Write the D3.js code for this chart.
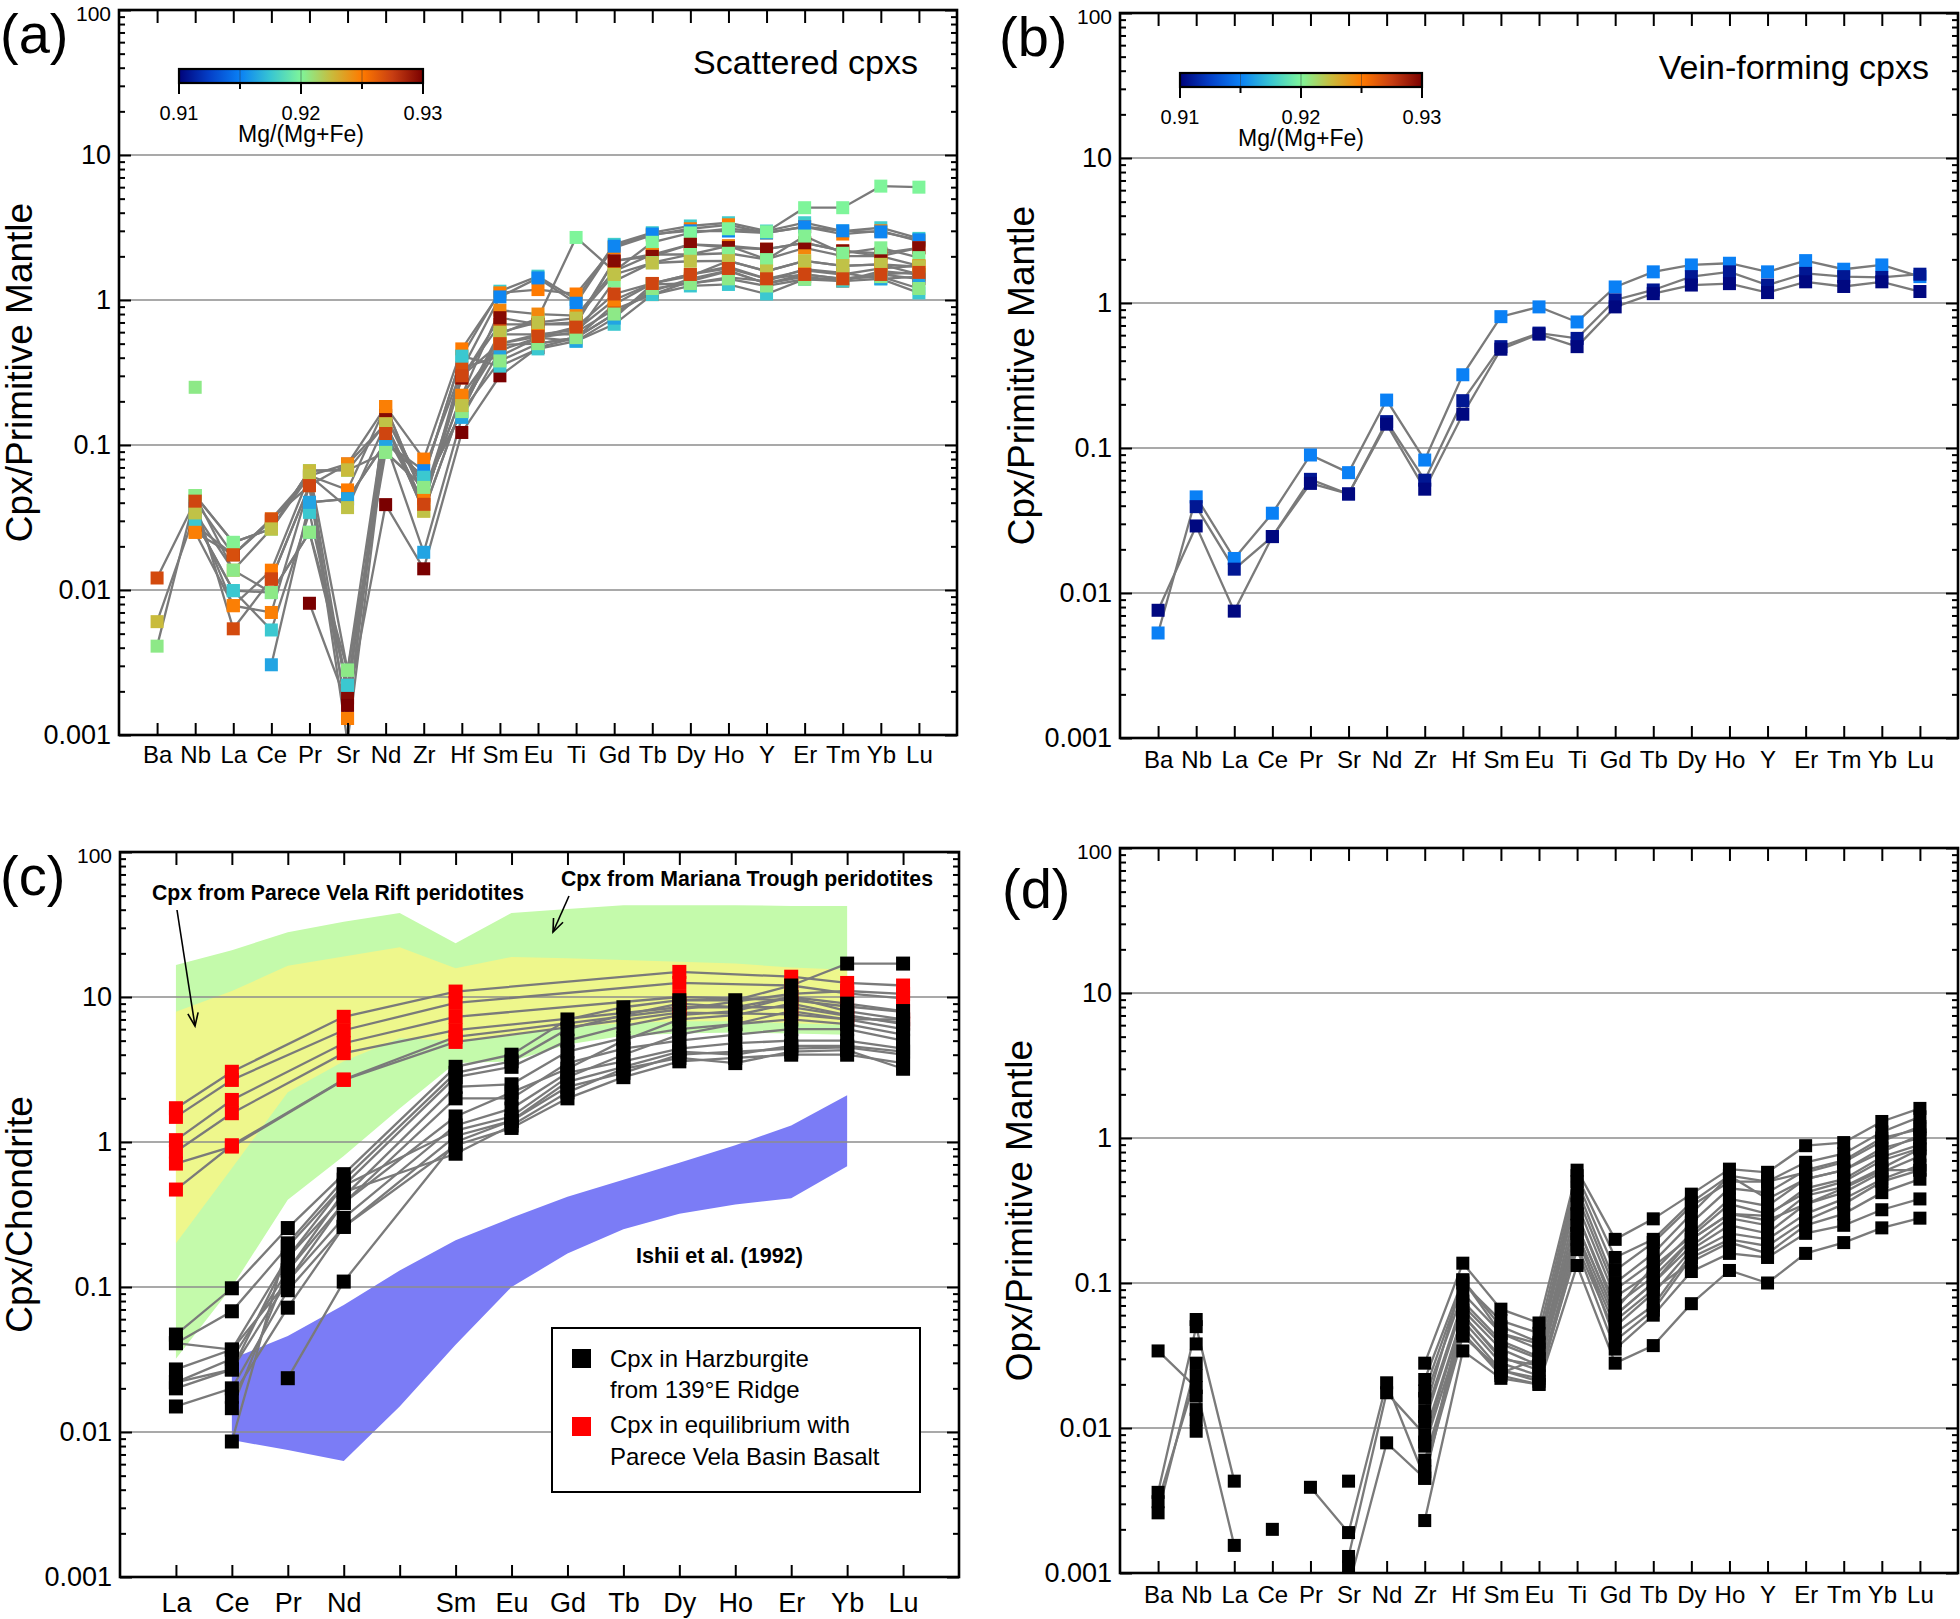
<!DOCTYPE html>
<html><head><meta charset="utf-8">
<script src="https://cdn.jsdelivr.net/npm/d3@7"></script>
<style>
body{margin:0;background:#fff;}
text{font-family:"Liberation Sans",Arial,Helvetica,sans-serif;}
</style></head><body>
<svg id="chart" width="1960" height="1619"></svg>
<script>
// ---------------- DATA ----------------
const elementsPM = ["Ba","Nb","La","Ce","Pr","Sr","Nd","Zr","Hf","Sm","Eu","Ti","Gd","Tb","Dy","Ho","Y","Er","Tm","Yb","Lu"];
const elementsREE = ["La","Ce","Pr","Nd","Pm","Sm","Eu","Gd","Tb","Dy","Ho","Er","Yb","Lu"];
const reeTickLabels = ["La","Ce","Pr","Nd","","Sm","Eu","Gd","Tb","Dy","Ho","Er","Yb","Lu"];
const yTickValues = [100,10,1,0.1,0.01,0.001];
const yTickLabels = ["100","10","1","0.1","0.01","0.001"];
const gridValues = [10,1,0.1,0.01];
const mgTickValues = [0.91,0.915,0.92,0.925,0.93];
const mgTickLabels = ["0.91","","0.92","","0.93"];
const mgStops = [0.91,0.9125,0.915,0.9175,0.92,0.9225,0.925,0.9275,0.93];
const mgStopColors = ["#00037a","#0440c8","#0a80f5","#38c6d2","#7ef59a","#c9bb3c","#ff7a00","#c83e12","#7a0000"];

// (a) Scattered cpxs : Mg# and PM-normalised values
const scatteredMg = [0.9178,0.9250,0.9152,0.9200,0.9270,0.9245,0.9296,0.9300,0.9202,0.9225,0.9268,0.9176,0.9163,0.9248,0.9205,0.9222,0.9272,0.9205];
const scatteredValues = [
 [null,0.030,0.0099,0.0096,0.025,0.0022,0.104,0.060,0.41,1.15,1.46,1.01,2.42,2.91,3.24,3.41,2.99,3.41,2.99,3.15,2.66],
 [null,0.034,0.0078,0.0137,0.0614,0.049,0.184,0.080,0.46,1.12,1.18,1.10,2.30,2.80,3.10,3.30,2.90,3.20,2.85,3.00,2.55],
 [null,0.038,null,null,0.0402,0.0425,0.104,0.0665,0.33,1.05,1.42,0.95,2.35,2.85,3.00,2.99,2.90,3.20,3.00,2.95,2.60],
 [null,0.0448,0.0213,0.0264,0.0665,0.0028,0.155,0.051,0.17,0.58,0.75,2.70,1.58,2.50,2.90,3.10,2.95,4.33,4.33,6.10,6.00],
 [0.0121,0.041,0.0054,0.0119,0.0525,0.074,0.14,0.039,0.29,0.68,0.68,0.68,1.86,2.06,2.42,2.36,2.24,2.48,2.18,2.01,2.29],
 [null,0.025,0.0175,0.0309,0.0614,0.074,0.184,0.0436,0.22,0.85,0.80,0.78,1.58,2.06,2.06,2.36,1.91,2.29,2.01,2.01,1.72],
 [null,0.028,0.0175,0.030,0.060,0.0018,0.16,0.045,0.29,0.755,0.68,0.70,1.86,2.00,2.42,2.30,2.24,2.48,2.18,2.10,2.29],
 [null,null,null,null,0.0081,0.0016,0.0388,0.014,0.122,0.30,0.47,0.55,0.80,1.15,1.40,1.60,1.30,1.50,1.40,1.50,1.40],
 [null,0.0448,0.0213,0.0264,0.0665,0.067,0.089,0.051,0.17,0.58,0.58,0.58,1.35,1.81,2.06,2.10,1.90,2.76,2.10,2.29,1.96],
 [0.00605,0.034,0.0137,0.0264,0.0665,0.067,0.14,0.035,0.187,0.49,0.50,0.55,0.93,1.30,1.46,1.86,1.58,1.86,1.72,1.76,1.50],
 [null,0.041,0.0175,0.0309,0.0525,0.0013,0.14,0.039,0.34,0.41,0.55,0.60,0.86,1.09,1.35,1.58,1.30,1.45,1.35,1.58,1.50],
 [null,0.030,0.0099,0.0053,0.0343,0.0022,0.104,0.060,0.41,0.35,0.46,0.52,0.68,1.09,1.25,1.28,1.10,1.39,1.35,1.40,1.12],
 [null,0.038,null,0.00305,0.0402,0.0425,0.104,0.0182,0.155,0.45,0.55,0.52,0.75,1.28,1.30,1.43,1.35,1.63,1.54,1.40,1.45],
 [null,0.025,0.0078,0.0070,0.0525,0.0013,0.184,0.0436,0.22,0.50,0.58,0.62,1.00,1.30,1.50,1.70,1.40,1.60,1.50,1.65,1.72],
 [0.0041,0.0448,0.0137,0.0096,0.025,0.0028,0.089,0.051,0.17,0.38,0.50,0.55,0.80,1.20,1.30,1.40,1.25,1.39,1.40,1.45,1.20],
 [null,0.034,null,0.0264,0.0614,0.037,0.14,0.035,0.187,0.60,0.70,0.75,1.50,1.80,1.85,1.86,1.58,1.86,1.72,1.76,1.70],
 [null,0.041,null,0.0119,0.0525,0.0009,0.12,0.039,0.30,0.50,0.56,0.65,1.10,1.30,1.50,1.65,1.40,1.50,1.40,1.50,1.55],
 [null,0.25,null,null,null,null,null,null,null,null,null,null,null,null,null,null,null,null,null,null,null]
];

// (b) Vein-forming cpxs
const veinMg = [0.9150,0.9108,0.9102];
const veinValues = [
 [0.0053,0.046,0.0173,0.0355,0.0895,0.0676,0.214,0.0826,0.32,0.805,0.94,0.74,1.29,1.64,1.83,1.88,1.64,1.96,1.71,1.83,1.52],
 [null,0.0394,0.0146,0.0245,0.0608,0.0482,0.152,0.060,0.212,0.50,0.62,0.57,1.05,1.23,1.52,1.64,1.33,1.60,1.52,1.50,1.58],
 [0.0076,0.029,0.0075,0.0245,0.057,0.0482,0.146,0.052,0.171,0.48,0.61,0.50,0.94,1.16,1.33,1.36,1.18,1.40,1.30,1.40,1.20]
];

// (c) Chondrite-normalised REE
const harzburgiteValues = [
 [0.047,0.098,0.255,0.60,null,3.3,4.0,7.0,8.5,9.5,9.5,12,17,17],
 [0.041,0.068,0.19,0.50,null,2.8,3.3,5.0,6.3,7.5,8.0,10,9.0,8.0],
 [0.027,0.037,0.16,0.42,null,2.4,2.5,4.2,5.2,6.0,6.5,8.0,7.0,6.0],
 [0.022,0.032,0.13,0.38,null,2.0,2.0,3.5,4.4,5.0,5.5,6.0,6.0,5.0],
 [0.020,0.027,0.11,0.30,null,1.3,1.7,3.0,3.6,4.4,4.8,5.0,5.0,4.4],
 [0.015,0.020,0.095,0.26,null,1.1,1.4,2.4,3.0,4.0,4.2,4.4,4.5,4.0],
 [null,0.0175,0.072,0.26,null,0.95,1.25,2.0,2.8,3.6,3.8,4.0,4.0,3.5],
 [null,0.0146,0.13,0.45,null,0.83,1.3,2.2,3.2,3.8,3.5,4.2,4.3,3.2],
 [null,0.0086,0.20,0.55,null,3.0,3.6,6.0,7.5,9.0,8.5,10,8.0,7.0],
 [null,null,0.0235,0.109,null,1.0,1.4,2.6,3.3,4.2,4.0,4.6,4.6,4.2],
 [0.022,0.027,0.16,0.50,null,1.2,1.5,2.8,4.0,5.5,6.5,7.0,6.5,5.5],
 [0.041,0.037,0.11,0.38,null,1.5,2.2,3.2,5.0,7.0,7.5,9.0,7.5,6.5]
];
const equilibriumValues = [
 [1.71,3.05,null,7.3,null,10.9,null,null,null,14.9,null,13.8,12.5,12.0],
 [1.49,2.68,null,5.9,null,9.1,null,null,null,12.5,null,12.0,10.6,9.8],
 [1.03,1.95,null,4.8,null,7.3,null,null,null,10.0,null,9.5,8.6,7.9],
 [0.86,1.58,null,4.1,null,5.9,null,null,null,8.5,null,8.5,7.4,6.6],
 [0.71,0.93,null,2.68,null,4.9,null,null,null,7.8,null,7.6,7.0,7.0],
 [0.47,0.95,null,2.7,null,5.3,null,null,null,8.2,null,10.5,11.0,10.5]
];
// field outlines: [element, value]
const marianaUpper = [["La",16.6],["Ce",21],["Pr",28],["Nd",33],["Pm",38],["Sm",23.5],["Eu",38],["Gd",40.5],["Tb",43],["Dy",43],["Ho",43],["Er",42.5],["Yb",42.5]];
const marianaLower = [["La",0.032],["Ce",0.10],["Pr",0.40],["Nd",0.80],["Pm",1.7],["Sm",3.5],["Eu",3.6],["Gd",4.7],["Tb",5.4],["Dy",5.6],["Ho",5.7],["Er",5.6],["Yb",5.5]];
const pvRiftUpper = [["La",7.9],["Ce",11],["Pr",16.4],["Nd",19],["Pm",22],["Sm",15.8],["Eu",18.9],["Gd",18.5],["Tb",18],["Dy",17.5],["Ho",17],["Er",16],["Yb",15.4]];
const pvRiftLower = [["La",0.2],["Ce",0.66],["Pr",2.2],["Nd",3.6],["Pm",5.2],["Sm",5.0],["Eu",5.4],["Gd",6.2],["Tb",6.6],["Dy",6.8],["Ho",6.8],["Er",6.6],["Yb",6.4]];
const ishiiUpper = [["Ce",0.032],["Pr",0.046],["Nd",0.075],["Pm",0.13],["Sm",0.21],["Eu",0.3],["Gd",0.42],["Tb",0.55],["Dy",0.72],["Ho",0.95],["Er",1.3],["Yb",2.1]];
const ishiiLower = [["Ce",0.0088],["Pr",0.0075],["Nd",0.0063],["Pm",0.015],["Sm",0.04],["Eu",0.1],["Gd",0.17],["Tb",0.25],["Dy",0.32],["Ho",0.37],["Er",0.41],["Yb",0.68]];

// (d) Opx / Primitive Mantle
const opxValues = [
 [0.034,0.019,0.00155,null,null,null,null,0.028,0.137,0.066,0.053,0.60,0.20,0.277,0.41,0.61,0.58,0.885,0.93,1.30,1.60],
 [0.0036,0.050,0.0043,null,null,null,null,0.0216,0.105,0.050,0.039,0.50,0.122,0.19,0.34,0.50,0.50,0.68,0.78,1.10,1.40],
 [0.0031,0.023,null,null,null,null,null,0.016,0.085,0.045,0.035,0.40,0.090,0.14,0.26,0.45,0.42,0.60,0.70,1.00,1.15],
 [0.0026,0.028,null,null,null,null,null,0.012,0.075,0.040,0.031,0.35,0.080,0.12,0.22,0.38,0.34,0.52,0.60,0.85,1.00],
 [null,0.056,null,null,0.0039,0.0019,0.0205,0.0045,0.065,0.035,0.027,0.30,0.070,0.11,0.20,0.30,0.29,0.45,0.52,0.74,0.90],
 [null,0.038,null,null,null,0.0013,0.0175,0.009,0.060,0.031,0.025,0.25,0.060,0.10,0.18,0.28,0.25,0.40,0.46,0.62,0.84],
 [null,0.0166,null,null,null,0.0008,0.0079,0.0045,0.055,0.028,0.023,0.20,0.050,0.085,0.17,0.25,0.22,0.35,0.42,0.58,0.75],
 [null,0.0134,null,null,null,0.0011,null,0.0075,0.050,0.025,0.021,0.18,0.045,0.07,0.16,0.22,0.20,0.30,0.38,0.52,0.65],
 [null,0.0115,null,null,null,null,null,0.006,0.045,0.023,0.020,0.22,0.040,0.065,0.15,0.20,0.18,0.27,0.35,0.50,0.60],
 [null,0.0095,null,null,null,null,null,0.0023,0.034,0.022,0.020,0.132,0.028,0.037,0.072,0.122,0.10,0.16,0.19,0.24,0.28],
 [null,null,null,null,null,null,null,0.013,0.105,0.045,0.038,0.45,0.10,0.16,0.30,0.55,0.50,0.58,0.68,0.95,1.20],
 [null,null,null,null,null,null,null,0.011,0.070,0.038,0.030,0.30,0.065,0.13,0.21,0.35,0.30,0.42,0.50,0.70,0.85],
 [null,null,null,null,null,null,null,0.008,0.060,0.030,0.027,0.22,0.055,0.09,0.14,0.19,0.16,0.25,0.30,0.42,0.52],
 [null,null,null,null,null,null,null,0.005,0.043,0.025,0.022,0.17,0.035,0.06,0.12,0.16,0.15,0.22,0.25,0.32,0.38],
 [null,null,null,null,null,null,null,0.0055,0.045,0.024,0.030,0.25,0.060,0.10,0.20,0.30,0.27,0.35,0.45,0.60,0.60],
 [null,null,null,null,null,null,null,0.018,0.100,0.055,0.045,0.55,0.150,0.20,0.36,0.55,0.38,0.52,0.60,0.80,1.05],
 [null,null,null,0.002,null,null,null,null,null,null,null,null,null,null,null,null,null,null,null,null,null],
 [null,null,null,null,null,0.0043,null,null,null,null,null,null,null,null,null,null,null,null,null,null,null]
];

// ---------------- DRAW ----------------
const svg = d3.select("#chart");
const defs = svg.append("defs");
const mgColor = d3.scaleLinear().domain(mgStops).range(mgStopColors).clamp(true);
const minorValues = [];
[-3,-2,-1,0,1].forEach(e => { for (let k=2;k<=9;k++) minorValues.push(k*Math.pow(10,e)); });

function makePanel(cfg){
  const x = d3.scalePoint().domain(cfg.cats).range([cfg.x0,cfg.x1]).padding(1);
  const y = d3.scaleLog().domain([0.001,100]).range([cfg.y1,cfg.y0]);
  const g = svg.append("g");
  defs.append("clipPath").attr("id","clip-"+cfg.id).append("rect")
    .attr("x",cfg.x0).attr("y",cfg.y0).attr("width",cfg.x1-cfg.x0).attr("height",cfg.y1-cfg.y0);
  const under = g.append("g").attr("clip-path","url(#clip-"+cfg.id+")");
  const grid = g.append("g");
  grid.selectAll("line").data(gridValues).join("line")
    .attr("x1",cfg.x0).attr("x2",cfg.x1).attr("y1",d=>y(d)).attr("y2",d=>y(d))
    .attr("stroke","#8c8c8c").attr("stroke-width",1.6);
  const plot = g.append("g").attr("clip-path","url(#clip-"+cfg.id+")");
  const axes = g.append("g");
  const bottom = axes.append("g").attr("transform",`translate(0,${cfg.y1})`)
    .call(d3.axisBottom(x).tickSize(-12).tickPadding(cfg.xPad).tickFormat((d,i)=>cfg.tickLabels[i]));
  bottom.selectAll("text").attr("font-size",cfg.xFont).attr("fill","#000")
    .attr("font-family",'"Liberation Sans",Arial,Helvetica,sans-serif');
  axes.append("g").attr("transform",`translate(0,${cfg.y0})`)
    .call(d3.axisTop(x).tickSize(-13).tickFormat(""));
  const left = axes.append("g").attr("transform",`translate(${cfg.x0},0)`)
    .call(d3.axisLeft(y).tickValues(yTickValues).tickSize(-12).tickPadding(8).tickFormat((d,i)=>yTickLabels[i]));
  left.selectAll("text").attr("font-size",d=>d===100?21:27).attr("fill","#000")
    .attr("font-family",'"Liberation Sans",Arial,Helvetica,sans-serif')
    .attr("dy",d=>d===100 ? "0.5em" : "0.32em");
  axes.append("g").attr("transform",`translate(${cfg.x0},0)`)
    .call(d3.axisLeft(y).tickValues(minorValues).tickSize(-6).tickFormat(""));
  axes.append("g").attr("transform",`translate(${cfg.x1},0)`)
    .call(d3.axisRight(y).tickValues(yTickValues).tickSize(-12).tickFormat(""));
  axes.append("g").attr("transform",`translate(${cfg.x1},0)`)
    .call(d3.axisRight(y).tickValues(minorValues).tickSize(-6).tickFormat(""));
  axes.selectAll(".domain").remove();
  axes.selectAll(".tick line").attr("stroke","#000").attr("stroke-width",2);
  axes.append("rect").attr("x",cfg.x0).attr("y",cfg.y0).attr("width",cfg.x1-cfg.x0).attr("height",cfg.y1-cfg.y0)
    .attr("fill","none").attr("stroke","#000").attr("stroke-width",2.6);
  svg.append("text").attr("transform",`translate(${cfg.titleX},${(cfg.y0+cfg.y1)/2}) rotate(-90)`)
    .attr("text-anchor","middle").attr("font-size",37).text(cfg.title);
  svg.append("text").attr("x",cfg.letterX).attr("y",cfg.letterY).attr("font-size",56).text(cfg.letter);
  return {x,y,under,plot,g};
}

function drawSeries(P, cats, rows, skipNulls){
  const line = d3.line().defined(d=>d.v!=null).x(d=>P.x(d.c)).y(d=>P.y(d.v));
  const series = rows.map((r,i)=>{
    let pts = r.map((v,j)=>({c:cats[j],v:v}));
    if (skipNulls) pts = pts.filter(d=>d.v!=null);
    return {i, pts};
  });
  P.plot.append("g").selectAll("path").data(series).join("path")
    .attr("d",d=>line(d.pts)).attr("fill","none").attr("stroke","#7a7a7a").attr("stroke-width",2.3);
  return series;
}
function drawMarkers(P, series, colorFn, size){
  const mg = P.plot.append("g");
  series.forEach(s=>{
    mg.selectAll(null).data(s.pts.filter(d=>d.v!=null)).join("rect")
      .attr("x",d=>P.x(d.c)-size/2).attr("y",d=>P.y(d.v)-size/2)
      .attr("width",size).attr("height",size).attr("fill",colorFn(s.i));
  });
}

function colorBar(x0, x1, y0, label){
  const id = "grad"+Math.round(x0);
  const grad = defs.append("linearGradient").attr("id",id).attr("x1","0%").attr("x2","100%");
  mgStops.forEach((s,i)=>grad.append("stop").attr("offset",((s-0.91)/0.02*100)+"%").attr("stop-color",mgStopColors[i]));
  const cx = d3.scaleLinear().domain([0.91,0.93]).range([x0,x1]);
  const g = svg.append("g");
  g.append("rect").attr("x",x0).attr("y",y0).attr("width",x1-x0).attr("height",14).attr("fill",`url(#${id})`);
  g.selectAll("line.in").data([0.915,0.92,0.925]).join("line")
    .attr("x1",d=>cx(d)).attr("x2",d=>cx(d)).attr("y1",y0).attr("y2",y0+14).attr("stroke","#333").attr("stroke-width",0.8).attr("opacity",0.6);
  g.append("rect").attr("x",x0).attr("y",y0).attr("width",x1-x0).attr("height",14).attr("fill","none").attr("stroke","#000").attr("stroke-width",2.2);
  g.selectAll("line.tk").data(mgTickValues).join("line")
    .attr("x1",d=>cx(d)).attr("x2",d=>cx(d)).attr("y1",y0+14).attr("y2",(d,i)=>i%2?y0+20:y0+25)
    .attr("stroke","#000").attr("stroke-width",2);
  g.selectAll("text.tl").data(mgTickValues).join("text")
    .attr("x",d=>cx(d)).attr("y",y0+51).attr("text-anchor","middle").attr("font-size",20).text((d,i)=>mgTickLabels[i]);
  g.append("text").attr("x",cx(0.92)).attr("y",y0+73).attr("text-anchor","middle").attr("font-size",23).text(label);
}

// ---- panel (a)
const PA = makePanel({id:"a",x0:119,x1:957,y0:10,y1:735,cats:elementsPM,tickLabels:elementsPM,xFont:24,xPad:11,
  title:"Cpx/Primitive Mantle",titleX:32,letter:"(a)",letterX:0,letterY:53});
const sA = drawSeries(PA, elementsPM, scatteredValues);
drawMarkers(PA, sA, i=>mgColor(scatteredMg[i]), 13);
colorBar(179,423,69,"Mg/(Mg+Fe)");
svg.append("text").attr("x",918).attr("y",74).attr("text-anchor","end").attr("font-size",34).text("Scattered cpxs");

// ---- panel (b)
const PB = makePanel({id:"b",x0:1120,x1:1958,y0:13,y1:738,cats:elementsPM,tickLabels:elementsPM,xFont:24,xPad:13,
  title:"Cpx/Primitive Mantle",titleX:1034,letter:"(b)",letterX:999,letterY:56});
const sB = drawSeries(PB, elementsPM, veinValues);
drawMarkers(PB, sB, i=>mgColor(veinMg[i]), 13);
colorBar(1180,1422,73,"Mg/(Mg+Fe)");
svg.append("text").attr("x",1929).attr("y",79).attr("text-anchor","end").attr("font-size",34).text("Vein-forming cpxs");

// ---- panel (c)
const PC = makePanel({id:"c",x0:120,x1:959,y0:852,y1:1577,cats:elementsREE,tickLabels:reeTickLabels,xFont:27,xPad:16,
  title:"Cpx/Chondrite",titleX:32,letter:"(c)",letterX:0,letterY:895});
function field(upper, lower, color){
  const pts = upper.concat(lower.slice().reverse());
  PC.under.append("path").attr("d", d3.line().x(d=>PC.x(d[0])).y(d=>PC.y(d[1]))(pts)+"Z").attr("fill",color);
}
field(marianaUpper, marianaLower, "#c4faab");
field(pvRiftUpper, pvRiftLower, "#eef78c");
field(ishiiUpper, ishiiLower, "#7b7cf6");
const sK = drawSeries(PC, elementsREE, harzburgiteValues, true);
const sR = drawSeries(PC, elementsREE, equilibriumValues, true);
drawMarkers(PC, sR, ()=>"#ff0000", 14);
drawMarkers(PC, sK, ()=>"#000000", 14);
function condText(x,y,len,txt){
  svg.append("text").attr("x",x).attr("y",y).attr("font-size",22).attr("font-weight","bold")
    .attr("textLength",len).attr("lengthAdjust","spacingAndGlyphs").text(txt);
}
condText(152,900,372,"Cpx from Parece Vela Rift peridotites");
condText(561,886,372,"Cpx from Mariana Trough peridotites");
condText(636,1263,167,"Ishii et al. (1992)");
function arrow(x1,y1,x2,y2){
  const a = Math.atan2(y2-y1,x2-x1), L=14, w=0.38;
  svg.append("line").attr("x1",x1).attr("y1",y1).attr("x2",x2).attr("y2",y2).attr("stroke","#000").attr("stroke-width",1.6);
  const p1=[x2-L*Math.cos(a-w),y2-L*Math.sin(a-w)], p2=[x2-L*Math.cos(a+w),y2-L*Math.sin(a+w)];
  svg.append("path").attr("d",`M${p1}L${x2},${y2}L${p2}`).attr("fill","none").attr("stroke","#000").attr("stroke-width",1.6);
}
arrow(177,910,195,1026);
arrow(569,896,553,932);
const lg = svg.append("g");
lg.append("rect").attr("x",552).attr("y",1328).attr("width",368).attr("height",164).attr("fill","#fff").attr("stroke","#000").attr("stroke-width",2);
lg.append("rect").attr("x",572).attr("y",1349).attr("width",19).attr("height",19).attr("fill","#000");
lg.append("rect").attr("x",572).attr("y",1417).attr("width",19).attr("height",19).attr("fill","#ff0000");
[["Cpx in Harzburgite",1367],["from 139°E Ridge",1398],["Cpx in equilibrium with",1433],["Parece Vela Basin Basalt",1465]]
 .forEach(t=>lg.append("text").attr("x",610).attr("y",t[1]).attr("font-size",24).text(t[0]));

// ---- panel (d)
const PD = makePanel({id:"d",x0:1120,x1:1958,y0:848,y1:1573,cats:elementsPM,tickLabels:elementsPM,xFont:24,xPad:13,
  title:"Opx/Primitive Mantle",titleX:1032,letter:"(d)",letterX:1002,letterY:908});
const sD = drawSeries(PD, elementsPM, opxValues);
drawMarkers(PD, sD, ()=>"#000000", 13);
</script></body></html>
